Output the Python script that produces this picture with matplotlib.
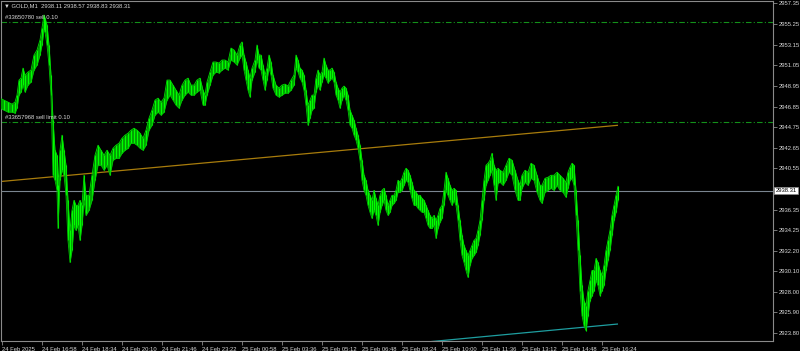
import matplotlib
matplotlib.use("Agg")
import matplotlib.pyplot as plt
import matplotlib.transforms as mtransforms

plt.rcParams['font.family'] = ['Liberation Sans', 'DejaVu Sans']

# ---------------- data ----------------
symbol_header = "\u25bc GOLD,M1  2938.11 2938.57 2938.83 2938.31"

# bar positions (chart columns) and high / low prices
bar_pos = [0, 4, 8, 12, 15, 17, 19, 21, 23, 25, 28, 31, 34, 37, 40, 42, 44, 45, 47, 49,
           51, 53, 55, 57, 58, 60, 62, 64, 66, 68, 70, 72, 74, 76, 78, 80, 82, 84, 86, 89,
           92, 95, 98, 101, 104, 107, 110, 113, 116, 119, 122, 125, 128, 131, 134, 137, 140, 143, 146, 149,
           152, 155, 158, 161, 164, 167, 170, 173, 176, 179, 182, 185, 188, 191, 194, 197, 200, 203, 205, 207,
           210, 213, 216, 219, 222, 225, 228, 231, 234, 237, 240, 242, 244, 246, 248, 250, 252, 255, 257, 259,
           261, 263, 265, 267, 269, 271, 273, 276, 279, 282, 285, 288, 291, 294, 296, 298, 300, 302, 304, 306,
           308, 310, 312, 314, 316, 318, 320, 322, 324, 326, 328, 330, 332, 334, 336, 338, 340, 342, 344, 346,
           348, 350, 352, 354, 356, 358, 360, 362, 364, 366, 368, 370, 372, 374, 376, 378, 380, 382, 384, 386,
           388, 390, 392, 394, 396, 398, 400, 402, 404, 406, 408, 410, 412, 414, 416, 418, 420, 422, 424, 426,
           428, 430, 432, 434, 436, 438, 440, 442, 444, 446, 448, 450, 452, 454, 456, 458, 460, 462, 464, 466,
           468, 470, 472, 474, 476, 478, 480, 482, 484, 486, 488, 490, 492, 494, 496, 498, 500, 503, 506, 509,
           512, 515, 518, 520, 522, 525, 528, 531, 534, 537, 540, 542, 545, 548, 551, 554, 557, 560, 563, 566,
           568, 570, 572, 574, 576, 578, 580, 582, 584, 586, 588, 590, 592, 594, 596, 598, 600, 602, 604, 606,
           608, 610, 612, 614, 616, 618]

high = [2947.71, 2947.51, 2947.31, 2947.10, 2947.31, 2948.02, 2949.55, 2949.75, 2950.77, 2950.06,
        2950.37, 2950.57, 2952.10, 2952.61, 2953.63, 2954.85, 2956.18, 2955.87, 2955.16, 2953.12,
        2950.06, 2945.47, 2942.41, 2941.90, 2938.84, 2942.41, 2943.94, 2942.41, 2940.88, 2937.31,
        2934.25, 2936.29, 2937.31, 2936.80, 2936.80, 2937.31, 2936.80, 2939.86, 2937.82, 2937.82,
        2939.86, 2941.90, 2942.92, 2942.41, 2941.90, 2942.41, 2941.90, 2942.61, 2942.92, 2943.12,
        2943.63, 2943.94, 2944.14, 2944.45, 2944.65, 2944.45, 2944.14, 2943.63, 2944.45, 2945.67,
        2946.49, 2947.51, 2947.71, 2947.31, 2947.71, 2949.55, 2949.55, 2949.04, 2948.53, 2948.02,
        2949.04, 2949.55, 2949.75, 2949.04, 2949.04, 2949.55, 2949.75, 2948.53, 2948.02, 2949.35,
        2950.37, 2951.39, 2951.39, 2951.28, 2951.59, 2951.59, 2951.39, 2952.81, 2952.61, 2952.10,
        2953.12, 2953.43, 2952.10, 2951.39, 2950.57, 2949.75, 2950.77, 2951.59, 2953.12, 2952.10,
        2952.10, 2951.08, 2950.06, 2950.77, 2952.10, 2951.39, 2950.06, 2949.04, 2948.73, 2949.04,
        2949.14, 2948.94, 2949.55, 2950.06, 2952.10, 2951.59, 2950.77, 2950.57, 2950.06, 2948.53,
        2947.00, 2947.51, 2948.02, 2948.02, 2949.75, 2950.57, 2950.06, 2950.37, 2951.79, 2951.08,
        2950.57, 2950.57, 2950.77, 2950.37, 2949.35, 2948.73, 2948.33, 2948.73, 2948.94, 2948.73,
        2948.02, 2946.49, 2945.98, 2945.47, 2944.65, 2943.94, 2942.92, 2941.39, 2939.86, 2939.35,
        2938.33, 2937.82, 2937.31, 2938.33, 2937.51, 2936.80, 2937.82, 2938.33, 2938.53, 2937.82,
        2936.80, 2937.31, 2937.82, 2937.82, 2938.33, 2939.35, 2939.15, 2939.55, 2940.17, 2940.57,
        2940.37, 2939.86, 2939.15, 2938.33, 2938.13, 2937.82, 2937.82, 2937.51, 2937.31, 2936.80,
        2936.29, 2935.78, 2935.47, 2935.78, 2935.27, 2935.78, 2936.49, 2936.80, 2938.33, 2940.17,
        2939.55, 2938.84, 2938.33, 2938.53, 2938.33, 2936.80, 2935.27, 2933.74, 2932.72, 2932.21,
        2931.70, 2932.21, 2932.72, 2933.23, 2933.43, 2934.25, 2935.27, 2937.31, 2939.35, 2940.88,
        2941.08, 2941.39, 2942.10, 2940.88, 2940.37, 2940.57, 2940.37, 2940.17, 2940.88, 2941.59,
        2941.39, 2940.37, 2939.35, 2938.84, 2939.86, 2940.37, 2940.17, 2941.08, 2940.88, 2939.86,
        2938.84, 2938.84, 2939.55, 2939.66, 2939.86, 2939.86, 2940.17, 2939.86, 2939.55, 2939.15,
        2940.17, 2940.68, 2941.08, 2940.88, 2938.33, 2935.27, 2931.70, 2928.64, 2927.11, 2926.60,
        2928.13, 2929.15, 2930.17, 2930.17, 2931.39, 2930.99, 2930.17, 2929.66, 2930.68, 2932.21,
        2933.23, 2934.25, 2935.78, 2936.80, 2937.82, 2938.74]

low = [2946.69, 2946.49, 2946.29, 2946.29, 2946.18, 2946.69, 2948.02, 2948.33, 2949.04, 2948.33,
       2949.04, 2949.35, 2950.57, 2951.08, 2952.10, 2953.12, 2954.65, 2954.45, 2953.12, 2951.08,
       2948.02, 2939.86, 2939.35, 2938.33, 2934.45, 2939.35, 2940.37, 2939.86, 2937.82, 2933.23,
       2930.99, 2932.21, 2934.76, 2934.25, 2934.76, 2933.23, 2934.76, 2937.31, 2935.78, 2936.29,
       2937.31, 2939.35, 2940.88, 2940.88, 2940.37, 2940.88, 2939.86, 2941.39, 2941.59, 2941.59,
       2942.10, 2942.41, 2942.61, 2943.12, 2943.12, 2942.92, 2942.61, 2942.41, 2942.92, 2944.45,
       2944.96, 2945.98, 2946.29, 2945.98, 2946.29, 2947.51, 2948.02, 2947.51, 2947.00, 2946.69,
       2947.51, 2948.02, 2948.33, 2948.02, 2948.02, 2948.33, 2948.53, 2947.00, 2947.00, 2948.02,
       2949.04, 2950.06, 2950.37, 2950.27, 2950.57, 2950.77, 2950.57, 2951.59, 2951.39, 2951.08,
       2951.79, 2952.10, 2950.57, 2949.55, 2948.53, 2947.82, 2949.55, 2950.37, 2951.59, 2950.77,
       2950.57, 2949.55, 2948.53, 2949.55, 2950.77, 2950.06, 2948.73, 2948.02, 2947.82, 2948.02,
       2948.22, 2948.22, 2948.53, 2949.04, 2950.77, 2950.37, 2949.75, 2949.35, 2948.53, 2947.00,
       2944.96, 2945.67, 2946.49, 2946.69, 2948.33, 2949.04, 2948.53, 2949.35, 2950.06, 2949.75,
       2949.24, 2949.55, 2949.75, 2949.35, 2948.02, 2947.51, 2946.69, 2947.51, 2948.02, 2947.51,
       2946.49, 2944.96, 2944.65, 2943.94, 2943.43, 2942.61, 2941.39, 2939.35, 2938.33, 2937.82,
       2936.80, 2936.09, 2935.47, 2936.29, 2935.78, 2934.76, 2936.09, 2936.80, 2937.31, 2936.29,
       2935.78, 2936.09, 2936.80, 2937.00, 2937.31, 2938.13, 2938.13, 2938.33, 2938.84, 2939.35,
       2939.15, 2938.33, 2937.51, 2936.80, 2936.80, 2936.49, 2936.29, 2936.09, 2936.09, 2935.47,
       2934.76, 2934.45, 2934.45, 2934.76, 2933.43, 2934.45, 2935.07, 2935.47, 2936.80, 2938.33,
       2937.82, 2937.31, 2936.80, 2937.31, 2936.80, 2935.27, 2933.23, 2931.70, 2930.99, 2930.17,
       2929.46, 2930.68, 2931.39, 2931.70, 2932.01, 2932.72, 2933.74, 2935.27, 2937.31, 2938.84,
       2939.35, 2939.86, 2940.37, 2938.84, 2937.31, 2939.04, 2939.15, 2938.84, 2939.35, 2940.17,
       2939.86, 2938.33, 2937.31, 2937.31, 2938.53, 2939.15, 2938.84, 2939.55, 2939.35, 2938.13,
       2937.31, 2937.00, 2938.13, 2938.33, 2938.53, 2938.33, 2938.84, 2938.33, 2938.13, 2937.62,
       2938.53, 2939.35, 2939.55, 2938.84, 2935.78, 2932.21, 2928.13, 2925.58, 2924.56, 2924.05,
       2925.58, 2927.11, 2927.62, 2928.13, 2929.15, 2928.64, 2927.62, 2928.13, 2928.64, 2930.17,
       2931.19, 2932.21, 2933.74, 2935.27, 2936.09, 2937.31]

bid_price = 2938.31
order_lines = [2955.46, 2945.28]
order_labels = ["#33650780 sell 0.10", "#33657968 sell limit 0.10"]

# trend lines: (bar_start, price_start, bar_end, price_end)
trend_orange = (-2, 2939.20, 618, 2944.95)
trend_teal = (430, 2922.92, 618, 2924.72)

price_ticks = [2957.35, 2955.25, 2953.15, 2951.05, 2948.95, 2946.85, 2944.75, 2942.65,
               2940.55, 2936.35, 2934.25, 2932.20, 2930.10, 2928.00, 2925.90, 2923.80]

time_tick_pos = [1.5, 41.5, 81.5, 121.5, 161.5, 201.5, 241.5, 281.5, 321.5, 361.5,
                 401.5, 441.5, 481.5, 521.5, 561.5, 601.5]
time_labels = ["24 Feb 2025", "24 Feb 16:58", "24 Feb 18:34", "24 Feb 20:10", "24 Feb 21:46",
               "24 Feb 23:22", "25 Feb 00:58", "25 Feb 03:36", "25 Feb 05:12", "25 Feb 06:48",
               "25 Feb 08:24", "25 Feb 10:00", "25 Feb 11:36", "25 Feb 13:12", "25 Feb 14:48",
               "25 Feb 16:24"]

# ---------------- figure ----------------
W, H = 800, 351
fig = plt.figure(figsize=(W / 100, H / 100), dpi=100, facecolor="black")
ax = fig.add_axes([1 / W, 10 / H, 772 / W, 340 / H], facecolor="black")

ax.set_xlim(1, 773)
ax.set_ylim(2922.99, 2957.60)

txt_col = "#d8d8d8"
fs = 4.2

# price bars
ax.fill_between(bar_pos, low, high, color="#00a000", lw=0, zorder=3)
ax.vlines(bar_pos, low, high, color="#00ff00", lw=0.8, zorder=4)
ax.plot(bar_pos, high, color="#00e000", lw=0.6, zorder=4)
ax.plot(bar_pos, low, color="#00c800", lw=0.6, zorder=4)

# order lines
for p, lab in zip(order_lines, order_labels):
    ax.axhline(p, color="#13901a", lw=0.8, ls=(0, (5, 2, 1, 2)), zorder=2)
    ax.text(5, p + 0.25, lab, color=txt_col, fontsize=fs, va="bottom", ha="left", zorder=5)

# bid line
ax.axhline(bid_price, color="#7a8590", lw=0.8, zorder=2)

# trend lines
ax.plot([trend_orange[0], trend_orange[2]], [trend_orange[1], trend_orange[3]],
        color="#a87c0c", lw=0.9, zorder=2, solid_capstyle="butt")
ax.plot([trend_teal[0], trend_teal[2]], [trend_teal[1], trend_teal[3]],
        color="#1e9ea0", lw=0.9, zorder=2, solid_capstyle="butt")

# header
ax.text(3 / 772, 1 - 5 / 340, symbol_header, transform=ax.transAxes, color=txt_col,
        fontsize=fs, va="center", ha="left")

# axes styling
for s in ax.spines.values():
    s.set_color("#8a8a8a")
    s.set_linewidth(0.8)

ax.yaxis.tick_right()
ax.set_yticks(price_ticks)
ax.set_yticklabels([f"{v:.2f}" for v in price_ticks])
ax.tick_params(axis="y", colors="#8a8a8a", labelcolor=txt_col, labelsize=fs,
               length=3, width=0.6, pad=1.2, direction="out")

ax.set_xticks(time_tick_pos)
ax.set_xticklabels(time_labels, ha="left")
ax.tick_params(axis="x", colors="#8a8a8a", labelcolor=txt_col, labelsize=fs,
               length=3, width=0.6, pad=1, direction="out")

# bid price label on the price scale
trans = mtransforms.blended_transform_factory(ax.transAxes, ax.transData)
ax.text(1.0 + 2.5 / 772, bid_price, f"{bid_price:.2f}", transform=trans, color="black",
        fontsize=fs, va="center", ha="left", clip_on=False, zorder=10,
        bbox=dict(boxstyle="square,pad=0.2", facecolor="white", edgecolor="#8a8a8a", lw=0.5))

fig.savefig("out.png", dpi=100, facecolor="black")
